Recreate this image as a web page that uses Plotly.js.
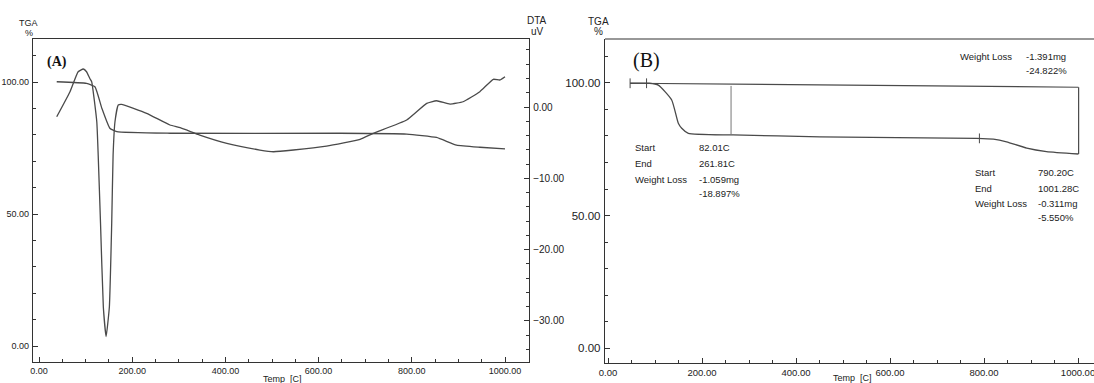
<!DOCTYPE html>
<html><head><meta charset="utf-8">
<script src="https://cdn.plot.ly/plotly-3.0.1.min.js"></script>
<style>html,body{margin:0;padding:0;background:#fff}#chart{width:1094px;height:383px}</style>
</head><body><div id="chart"></div>
<script>
// ---------- Panel A : TGA (%) ----------
const tempA_tga = [38, 102, 120, 135, 152, 167, 281, 646, 789, 853, 896, 946, 1000];
const tgaA      = [100.1, 99.5, 98.2, 90.0, 82.5, 81.2, 80.6, 80.6, 80.3, 79.0, 76.1, 75.3, 74.7];
// ---------- Panel A : DTA (uV) ----------
const tempA_dta = [38, 66.5, 84, 95, 102, 109, 113, 124, 127, 132, 138, 144, 151, 156, 159, 163, 170, 177, 231, 281, 303, 345, 403, 474, 503, 546, 617, 689, 717, 789, 832, 853, 882, 910, 946, 975, 989, 1000];
const dtaA      = [-1.36, 2.15, 4.95, 5.33, 4.95, 4.0, 3.55, -2.06, -6.73, -16.3, -28.0, -32.2, -28.0, -16.3, -6.73, -2.06, 0.28, 0.38, -0.88, -2.52, -2.9, -3.93, -5.09, -6.03, -6.27, -6.03, -5.47, -4.53, -3.69, -1.82, 0.52, 0.88, 0.42, 0.74, 2.15, 3.89, 3.79, 4.25];
// ---------- Panel B : TGA (%) ----------
const tempB = [47, 88, 107, 135.5, 149.6, 156.8, 170.9, 266, 451, 784, 820, 848, 891, 933, 1001];
const tgaB  = [99.9, 99.9, 99.2, 93.6, 84.8, 82.9, 81.0, 80.4, 79.7, 79.1, 78.8, 77.8, 75.4, 74.1, 73.2];
const baseT = [47, 1001];
const baseW = [99.9, 98.4];
const step1T = [261.81, 261.81];
const step1W = [98.9, 80.4];
const endT   = [1001.28, 1001.28];
const endW   = [98.4, 73.2];
const markT  = [47, 82.01, 790.20];
const markW  = [99.9, 99.9, 79.1];
// ---------- Texts ----------
const xTicksFmt = '.2f';
const topLabels = ['Weight Loss', '-1.391mg', '-24.822%'];
const step1Labels = ['Start', 'End', 'Weight Loss'];
const step1Values = ['82.01C', '261.81C', '-1.059mg', '-18.897%'];
const step2Values = ['790.20C', '1001.28C', '-0.311mg', '-5.550%'];

const W = 1094, H = 383;
const px = x => x / W;
const py = y => 1 - y / H;

const LINE = '#4a4a4a';
const AX = '#333';
const NARROW = '"Liberation Sans Narrow", "Arial Narrow", "Liberation Sans", Arial, sans-serif';
const SANS = '"Liberation Sans", Arial, sans-serif';

const traces = [
  {x: tempA_tga, y: tgaA, xaxis: 'x', yaxis: 'y', mode: 'lines',
   line: {color: LINE, width: 1.3, shape: 'spline', smoothing: 0.4}, hoverinfo: 'skip'},
  {x: tempA_dta, y: dtaA, xaxis: 'x', yaxis: 'y2', mode: 'lines',
   line: {color: LINE, width: 1.3, shape: 'spline', smoothing: 0.4}, hoverinfo: 'skip'},
  {x: tempB, y: tgaB, xaxis: 'x2', yaxis: 'y3', mode: 'lines',
   line: {color: LINE, width: 1.3, shape: 'spline', smoothing: 0.5}, hoverinfo: 'skip'},
  {x: baseT, y: baseW, xaxis: 'x2', yaxis: 'y3', mode: 'lines', line: {color: LINE, width: 1.2}},
  {x: step1T, y: step1W, xaxis: 'x2', yaxis: 'y3', mode: 'lines', line: {color: '#777', width: 1}},
  {x: endT, y: endW, xaxis: 'x2', yaxis: 'y3', mode: 'lines', line: {color: LINE, width: 1.2}},
  {x: markT, y: markW, xaxis: 'x2', yaxis: 'y3', mode: 'markers',
   marker: {symbol: 'line-ns', size: 7, line: {color: LINE, width: 1}}}
];

function xAxis(domain, range, anchor, fs) {
  return {domain, range, anchor, showgrid: false, zeroline: false, showline: true, mirror: true,
    linecolor: AX, linewidth: 1.2, ticks: 'inside', ticklen: 5, tickcolor: AX, tickwidth: 1,
    dtick: 200, tick0: 0, tickformat: xTicksFmt, ticklabeloverflow: 'allow',
    tickfont: {family: NARROW, size: fs, color: '#222'},
    minor: {dtick: 50, tick0: 0, ticks: 'inside', ticklen: 3, tickcolor: AX, showgrid: false}};
}
function yAxis(domain, range, anchor, fs, side, dtick, mdtick) {
  return {domain, range, anchor, side, showgrid: false, zeroline: false, showline: true,
    linecolor: AX, linewidth: 1.2, ticks: 'inside', ticklen: 5, tickcolor: AX, tickwidth: 1,
    dtick, tick0: 0, tickformat: '.2f', ticklabelstandoff: 1, ticklabeloverflow: 'allow',
    tickfont: {family: NARROW, size: fs, color: '#222'},
    minor: {dtick: mdtick, tick0: 0, ticks: 'inside', ticklen: 3, tickcolor: AX, showgrid: false}};
}

const ann = [];
function txt(text, x, y, opts) {
  ann.push(Object.assign({text, x: px(x), y: py(y), xref: 'paper', yref: 'paper', showarrow: false,
    xanchor: 'center', yanchor: 'middle', font: {family: SANS, size: 9, color: '#222'}}, opts || {}));
}
txt('TGA', 29, 23);
txt('%', 29, 33);
txt('DTA', 537, 20, {font: {family: SANS, size: 10, color: '#222'}});
txt('uV', 537, 32, {font: {family: SANS, size: 10, color: '#222'}});
txt('Temp  [C]', 282, 379, {font: {family: SANS, size: 9, color: '#222'}});
txt('<b>(A)</b>', 57, 62, {font: {family: '"Liberation Serif", "Times New Roman", serif', size: 14, color: '#111'}});
txt('TGA', 598, 21, {font: {family: SANS, size: 10, color: '#222'}});
txt('%', 598, 32, {font: {family: SANS, size: 10, color: '#222'}});
txt('(B)', 646, 60, {font: {family: '"Liberation Serif", "Times New Roman", serif', size: 20, color: '#111'}});
txt('Temp  [C]', 852, 378, {font: {family: SANS, size: 9, color: '#222'}});

const small = {family: NARROW, size: 9.5, color: '#222'};
// top total loss
txt(topLabels[0], 958, 57, {xanchor: 'left', font: small});
txt(topLabels[1], 1024, 57, {xanchor: 'left', font: small});
txt(topLabels[2], 1024, 70, {xanchor: 'left', font: small});
// step 1
[148, 163, 179].forEach((y, i) => txt(step1Labels[i], 633, y, {xanchor: 'left', font: small}));
[148, 163, 179, 193].forEach((y, i) => txt(step1Values[i], 697, y, {xanchor: 'left', font: small}));
// step 2
[173, 188, 203].forEach((y, i) => txt(step1Labels[i], 973, y, {xanchor: 'left', font: small}));
[173, 188, 203, 218].forEach((y, i) => txt(step2Values[i], 1036, y, {xanchor: 'left', font: small}));

const layout = {
  width: W, height: H, margin: {l: 0, r: 0, t: 0, b: 0}, showlegend: false,
  paper_bgcolor: '#fff', plot_bgcolor: '#fff',
  xaxis: xAxis([px(33), px(529)], [-12.9, 1051.5], 'y', 9),
  yaxis: yAxis([py(362), py(39)], [-6.06, 116.3], 'x', 9, 'left', 50, 10),
  yaxis2: Object.assign(yAxis([py(362), py(39)], [-35.76, 9.54], 'x', 10, 'right', 10, 2), {overlaying: 'y'}),
  xaxis2: Object.assign(xAxis([px(605), 1], [-6.4, 1034], 'y3', 9.5), {mirror: false}),
  yaxis3: yAxis([py(363), py(39)], [-5.66, 116.6], 'x2', 11.5, 'left', 50, 10),
  annotations: ann,
  shapes: [
    {type: 'line', xref: 'paper', yref: 'paper', x0: px(605), x1: 1, y0: py(39), y1: py(39), line: {color: AX, width: 1.2}}
  ]
};

Plotly.newPlot('chart', traces, layout, {staticPlot: true, displayModeBar: false});
</script></body></html>
